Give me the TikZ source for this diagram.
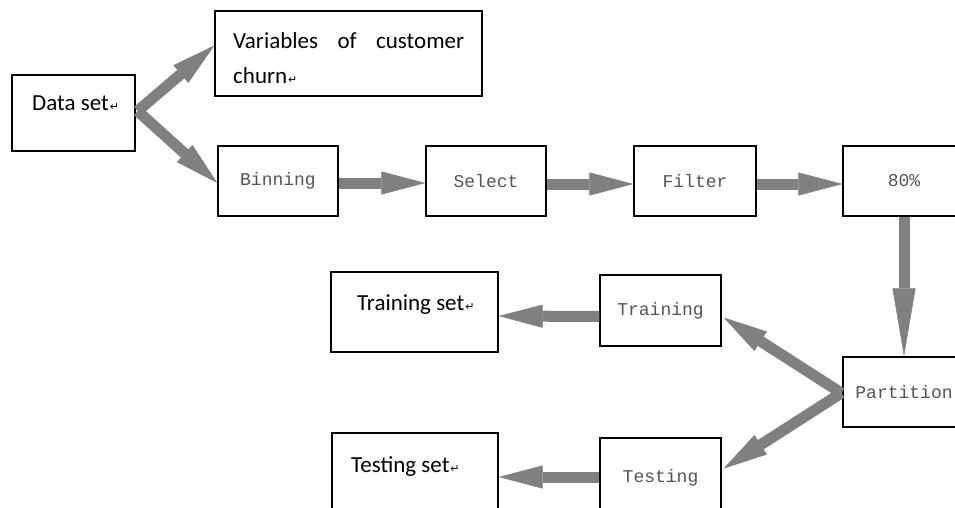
\documentclass[tikz,border=0pt]{standalone}
\usepackage{fontspec}
\setmainfont{Carlito}
\newfontfamily\monofam{Liberation Mono}
\newfontfamily\dejavu{DejaVu Sans}
\usetikzlibrary{arrows.meta,calc}
\definecolor{arrgray}{RGB}{128,128,128}
\definecolor{monogray}{RGB}{85,85,85}
\newcommand\retmark{{\dejavu\fontsize{11}{11}\selectfont\kern1pt↵}}
\tikzset{
  boxnode/.style={draw=black, line width=1.3pt, rectangle, inner sep=0pt},
  caltext/.style={font=\fontsize{23}{28}\selectfont, inner sep=0pt, anchor=base west},
  monotext/.style={font=\monofam\fontsize{18}{20}\selectfont, text=monogray, inner sep=0pt},
  fat/.style={draw=arrgray, line width=11pt, -{Triangle[length=44pt,width=23pt,line width=0.5pt]}},
  fatlong/.style={draw=arrgray, line width=11pt, -{Triangle[length=68pt,width=23pt,line width=0.5pt]}}
}
\begin{document}
\begin{tikzpicture}[x=1pt,y=-1pt]
\clip (0,0) rectangle (955,507);
\fill[white] (0,0) rectangle (955,507);
% boxes
\node[boxnode, minimum width=123pt, minimum height=76pt] (ds) at (73.5,113) {};
\node[boxnode, minimum width=267pt, minimum height=85pt] (var) at (348.5,53.5) {};
\node[boxnode, minimum width=120pt, minimum height=70pt] (bin) at (278,181) {};
\node[boxnode, minimum width=120pt, minimum height=70pt] (sel) at (486,181) {};
\node[boxnode, minimum width=122pt, minimum height=70pt] (fil) at (695,181) {};
\node[boxnode, minimum width=122pt, minimum height=70pt] (p80) at (904,181) {};
\node[boxnode, minimum width=122pt, minimum height=70pt] (part) at (904,392) {};
\node[boxnode, minimum width=121pt, minimum height=71pt] (tr) at (660.5,310.5) {};
\node[boxnode, minimum width=121pt, minimum height=71pt] (te) at (660.5,473.5) {};
\node[boxnode, minimum width=167pt, minimum height=80pt] (trs) at (414.5,312) {};
\node[boxnode, minimum width=166pt, minimum height=80pt] (tes) at (415,473) {};
% texts
\node[caltext] (dst) at (32,110) {Data set\retmark};
\node[caltext] (vart1) at (233,48) {\makebox[231pt][s]{Variables of customer}};
\node[caltext] (vart2) at (233,83) {churn\retmark};
\node[caltext] (trst) at (357,310) {Training set\retmark};
\node[caltext] (test) at (351,472) {Testing set\retmark};
\node[monotext] (bint) at (bin) {Binning};
\node[monotext] (selt) at (sel) {Select};
\node[monotext] (filt) at (fil) {Filter};
\node[monotext] (p80t) at (p80) {80\%};
\node[monotext] (partt) at (part) {Partition};
\node[monotext] (trt) at (tr) {Training};
\node[monotext, yshift=-4pt] (tet) at (te) {Testing};
% anchor coordinates for arrows
\coordinate (dsout) at ($(ds.east)+(2,-2)$);
\coordinate (varin) at ($(var.west)+(0,-8)$);
\coordinate (binin) at ($(bin.west)+(0,2)$);
\coordinate (partout) at ($(part.west)+(-1,1)$);
\coordinate (trin) at ($(tr.east)+(2,7)$);
\coordinate (tein) at ($(te.east)+(2,-5)$);
\coordinate (trout) at ($(tr.west)+(0,6)$);
\coordinate (trsin) at ($(trs.east)+(0,4)$);
\coordinate (teout) at ($(te.west)+(0,3.5)$);
\coordinate (tesin) at ($(tes.east)+(0,4)$);
% arrows
\draw[fat] (dsout) -- (varin);
\draw[fat] (dsout) -- (binin);
\draw[fat] ($(bin.east)+(0,2)$) -- ($(sel.west)+(0,2)$);
\draw[fat] ($(sel.east)+(0,3)$) -- ($(fil.west)+(0,3)$);
\draw[fat] ($(fil.east)+(0,3)$) -- ($(p80.west)+(0,3)$);
\draw[fatlong] (p80.south) -- (part.north);
\draw[fat] (partout) -- (trin);
\draw[fat] (partout) -- (tein);
\draw[fat] (trout) -- (trsin);
\draw[fat] (teout) -- (tesin);
\end{tikzpicture}
\end{document}
